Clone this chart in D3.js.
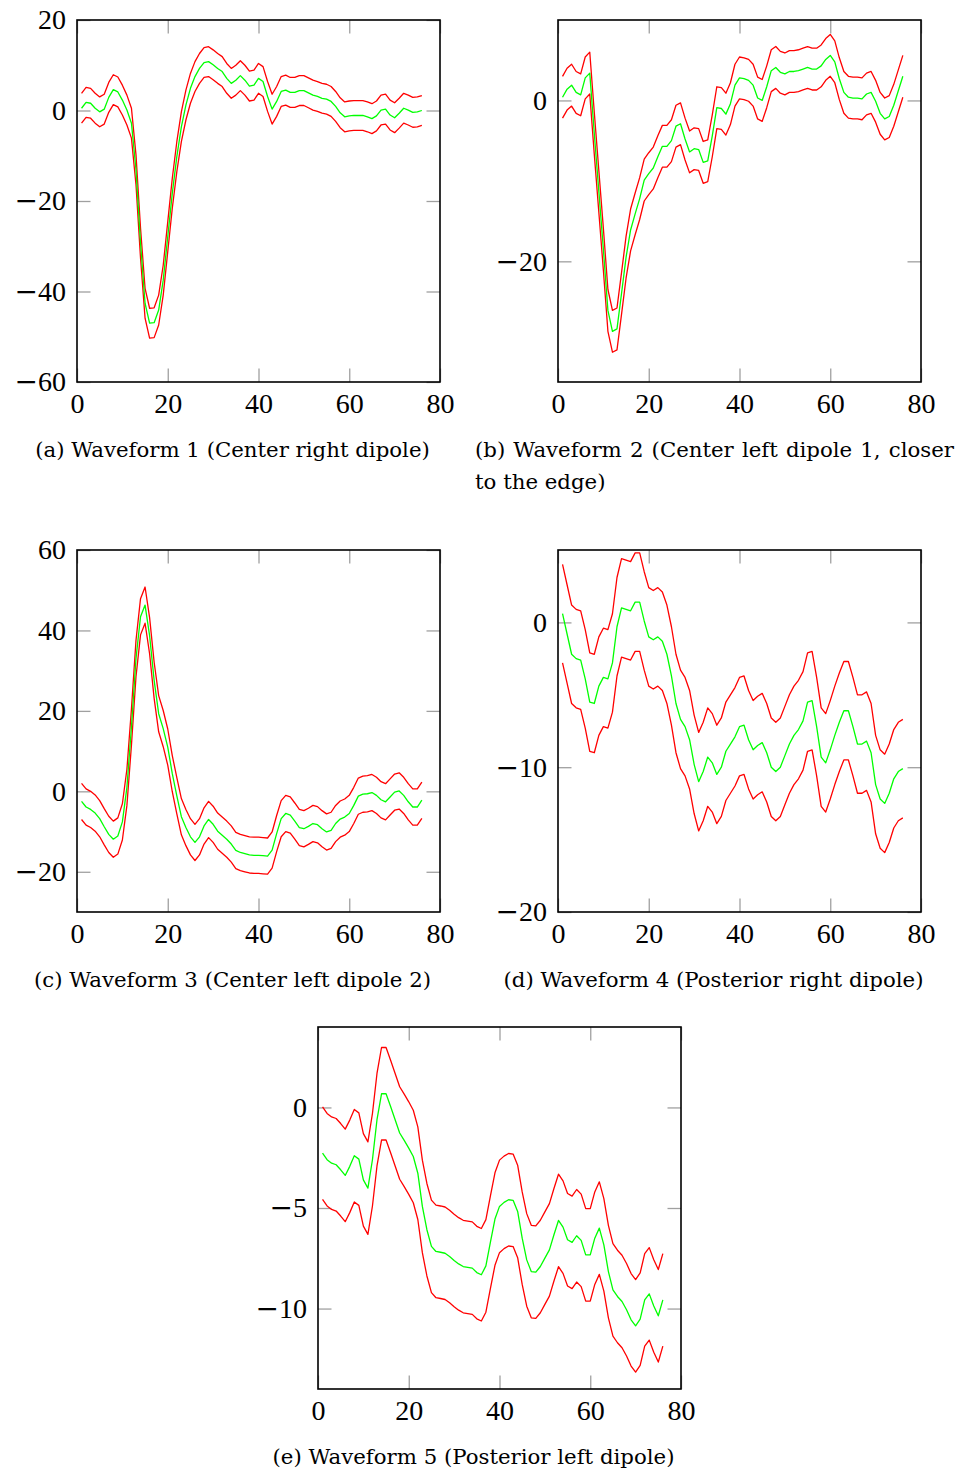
<!DOCTYPE html>
<html><head><meta charset="utf-8">
<script src="https://cdn.jsdelivr.net/npm/d3@7"></script>
<style>html,body{margin:0;padding:0;background:#fff;} svg{display:block;}</style>
</head><body><svg id="chart" width="961" height="1474"></svg>
<script>
// ---------- DATA ----------
const sampleIndex = d3.range(1, 77); // sample number 1..76
const xTicks = [0, 20, 40, 60, 80];

const wf1Mean  = [0.5,1.8,1.6,0.5,-0.3,0.3,2.9,4.6,4.1,2.3,0.1,-2.8,-13.1,-29.3,-42.6,-47.0,-46.9,-44.1,-37.5,-27.9,-18.3,-10.2,-3.6,1.2,4.9,7.5,9.3,10.6,10.8,10.1,9.3,8.6,7.1,6.0,6.7,7.7,6.7,5.4,5.6,7.1,6.4,3.1,0.3,2.0,4.2,4.5,4.0,4.0,4.4,4.4,3.9,3.4,3.1,2.7,2.5,2.0,0.9,-0.5,-1.4,-1.2,-1.1,-1.1,-1.1,-1.4,-1.8,-1.2,0.1,0.3,-1.0,-1.6,-0.6,0.5,0.1,-0.4,-0.3,0.0];
const wf1Upper = [3.8,5.1,4.9,3.8,3.0,3.6,6.2,7.9,7.4,5.6,3.4,0.5,-9.8,-26.0,-39.3,-43.7,-43.6,-40.8,-34.2,-24.6,-15.0,-6.9,-0.3,4.5,8.2,10.8,12.6,13.9,14.1,13.4,12.6,11.9,10.4,9.3,10.0,11.0,10.0,8.7,8.9,10.4,9.7,6.4,3.6,5.3,7.5,7.8,7.3,7.3,7.7,7.7,7.2,6.7,6.4,6.0,5.8,5.3,4.2,2.8,1.9,2.1,2.2,2.2,2.2,1.9,1.5,2.1,3.4,3.6,2.3,1.7,2.7,3.8,3.4,2.9,3.0,3.3];
const wf1Lower = [-2.8,-1.5,-1.7,-2.8,-3.6,-3.0,-0.4,1.3,0.8,-1.0,-3.2,-6.1,-16.4,-32.6,-45.9,-50.3,-50.2,-47.4,-40.8,-31.2,-21.6,-13.5,-6.9,-2.1,1.6,4.2,6.0,7.3,7.5,6.8,6.0,5.3,3.8,2.7,3.4,4.4,3.4,2.1,2.3,3.8,3.1,-0.2,-3.0,-1.3,0.9,1.2,0.7,0.7,1.1,1.1,0.6,0.1,-0.2,-0.6,-0.8,-1.3,-2.4,-3.8,-4.7,-4.5,-4.4,-4.4,-4.4,-4.7,-5.1,-4.5,-3.2,-3.0,-4.3,-4.9,-3.9,-2.8,-3.2,-3.7,-3.6,-3.3];
const wf1YTicks = [-60, -40, -20, 0, 20];

const wf2Mean  = [0.4,1.4,1.9,1.0,0.7,2.8,3.4,-4.1,-11.3,-18.5,-26.1,-28.7,-28.4,-24.0,-19.5,-16.1,-14.1,-12.2,-9.9,-9.1,-8.4,-7.0,-5.7,-5.7,-5.0,-3.2,-2.9,-4.8,-6.4,-6.0,-6.1,-7.7,-7.5,-4.4,-0.9,-1.0,-1.7,-0.4,1.9,2.8,2.7,2.5,1.9,0.3,0.0,1.7,3.7,4.1,3.5,3.3,3.6,3.6,3.7,3.9,4.1,3.9,3.9,4.3,5.1,5.6,4.8,2.7,1.0,0.4,0.3,0.3,0.2,0.8,1.0,-0.1,-1.6,-2.3,-2.0,-0.6,1.2,3.0];
const wf2Upper = [3.0,4.0,4.5,3.6,3.3,5.4,6.0,-1.5,-8.7,-15.9,-23.5,-26.1,-25.8,-21.4,-16.9,-13.5,-11.5,-9.6,-7.3,-6.5,-5.8,-4.4,-3.1,-3.1,-2.4,-0.6,-0.3,-2.2,-3.8,-3.4,-3.5,-5.1,-4.9,-1.8,1.7,1.6,0.9,2.2,4.5,5.4,5.3,5.1,4.5,2.9,2.6,4.3,6.3,6.7,6.1,5.9,6.2,6.2,6.3,6.5,6.7,6.5,6.5,6.9,7.7,8.2,7.4,5.3,3.6,3.0,2.9,2.9,2.8,3.4,3.6,2.5,1.0,0.3,0.6,2.0,3.8,5.6];
const wf2Lower = [-2.2,-1.2,-0.7,-1.6,-1.9,0.2,0.8,-6.7,-13.9,-21.1,-28.7,-31.3,-31.0,-26.6,-22.1,-18.7,-16.7,-14.8,-12.5,-11.7,-11.0,-9.6,-8.3,-8.3,-7.6,-5.8,-5.5,-7.4,-9.0,-8.6,-8.7,-10.3,-10.1,-7.0,-3.5,-3.6,-4.3,-3.0,-0.7,0.2,0.1,-0.1,-0.7,-2.3,-2.6,-0.9,1.1,1.5,0.9,0.7,1.0,1.0,1.1,1.3,1.5,1.3,1.3,1.7,2.5,3.0,2.2,0.1,-1.6,-2.2,-2.3,-2.3,-2.4,-1.8,-1.6,-2.7,-4.2,-4.9,-4.6,-3.2,-1.4,0.4];
const wf2YTicks = [-20, 0];

const wf3Mean  = [-2.5,-3.9,-4.5,-5.4,-6.8,-8.8,-10.7,-11.9,-11.1,-7.6,1.0,16.0,33.0,43.4,46.3,38.7,27.6,19.3,15.6,11.0,4.4,-1.1,-6.3,-9.0,-11.3,-12.7,-11.3,-8.6,-7.0,-8.2,-9.9,-10.9,-11.9,-13.1,-14.7,-15.2,-15.5,-15.8,-15.9,-15.9,-16.0,-16.1,-14.6,-10.5,-6.8,-5.5,-5.9,-7.4,-9.0,-9.3,-8.7,-8.0,-8.3,-9.3,-10.1,-9.7,-8.0,-6.9,-6.4,-5.5,-3.5,-1.2,-0.7,-0.6,-0.3,-1.0,-2.1,-2.6,-1.4,-0.2,0.1,-1.0,-2.6,-3.9,-3.9,-2.2];
const wf3Upper = [2.0,0.6,0.0,-0.9,-2.3,-4.3,-6.2,-7.4,-6.6,-3.1,5.5,20.5,37.5,47.9,50.8,43.2,32.1,23.8,20.1,15.5,8.9,3.4,-1.8,-4.5,-6.8,-8.2,-6.8,-4.1,-2.5,-3.7,-5.4,-6.4,-7.4,-8.6,-10.2,-10.7,-11.0,-11.3,-11.4,-11.4,-11.5,-11.6,-10.1,-6.0,-2.3,-1.0,-1.4,-2.9,-4.5,-4.8,-4.2,-3.5,-3.8,-4.8,-5.6,-5.2,-3.5,-2.4,-1.9,-1.0,1.0,3.3,3.8,3.9,4.2,3.5,2.4,1.9,3.1,4.3,4.6,3.5,1.9,0.6,0.6,2.3];
const wf3Lower = [-7.0,-8.4,-9.0,-9.9,-11.3,-13.3,-15.2,-16.4,-15.6,-12.1,-3.5,11.5,28.5,38.9,41.8,34.2,23.1,14.8,11.1,6.5,-0.1,-5.6,-10.8,-13.5,-15.8,-17.2,-15.8,-13.1,-11.5,-12.7,-14.4,-15.4,-16.4,-17.6,-19.2,-19.7,-20.0,-20.3,-20.4,-20.4,-20.5,-20.6,-19.1,-15.0,-11.3,-10.0,-10.4,-11.9,-13.5,-13.8,-13.2,-12.5,-12.8,-13.8,-14.6,-14.2,-12.5,-11.4,-10.9,-10.0,-8.0,-5.7,-5.2,-5.1,-4.8,-5.5,-6.6,-7.1,-5.9,-4.7,-4.4,-5.5,-7.1,-8.4,-8.4,-6.7];
const wf3YTicks = [-20, 0, 20, 40, 60];

const wf4Mean  = [0.6,-0.8,-2.2,-2.5,-2.6,-3.9,-5.5,-5.6,-4.4,-3.8,-3.9,-2.8,-0.3,1.0,0.9,0.8,1.4,1.4,0.1,-1.0,-1.2,-1.0,-1.3,-2.2,-3.7,-5.6,-6.7,-7.2,-8.1,-9.8,-11.0,-10.3,-9.3,-9.7,-10.5,-10.0,-8.9,-8.4,-7.9,-7.2,-7.1,-8.1,-8.8,-8.5,-8.3,-9.0,-10.0,-10.3,-10.0,-9.2,-8.4,-7.8,-7.4,-6.8,-5.5,-5.4,-7.2,-9.3,-9.7,-8.8,-7.8,-6.9,-6.1,-6.1,-7.2,-8.4,-8.4,-8.2,-9.0,-11.2,-12.2,-12.5,-11.8,-10.8,-10.3,-10.1];
const wf4Upper = [4.0,2.6,1.2,0.9,0.8,-0.5,-2.1,-2.2,-1.0,-0.4,-0.5,0.6,3.1,4.4,4.3,4.2,4.8,4.8,3.5,2.4,2.2,2.4,2.1,1.2,-0.3,-2.2,-3.3,-3.8,-4.7,-6.4,-7.6,-6.9,-5.9,-6.3,-7.1,-6.6,-5.5,-5.0,-4.5,-3.8,-3.7,-4.7,-5.4,-5.1,-4.9,-5.6,-6.6,-6.9,-6.6,-5.8,-5.0,-4.4,-4.0,-3.4,-2.1,-2.0,-3.8,-5.9,-6.3,-5.4,-4.4,-3.5,-2.7,-2.7,-3.8,-5.0,-5.0,-4.8,-5.6,-7.8,-8.8,-9.1,-8.4,-7.4,-6.9,-6.7];
const wf4Lower = [-2.8,-4.2,-5.6,-5.9,-6.0,-7.3,-8.9,-9.0,-7.8,-7.2,-7.3,-6.2,-3.7,-2.4,-2.5,-2.6,-2.0,-2.0,-3.3,-4.4,-4.6,-4.4,-4.7,-5.6,-7.1,-9.0,-10.1,-10.6,-11.5,-13.2,-14.4,-13.7,-12.7,-13.1,-13.9,-13.4,-12.3,-11.8,-11.3,-10.6,-10.5,-11.5,-12.2,-11.9,-11.7,-12.4,-13.4,-13.7,-13.4,-12.6,-11.8,-11.2,-10.8,-10.2,-8.9,-8.8,-10.6,-12.7,-13.1,-12.2,-11.2,-10.3,-9.5,-9.5,-10.6,-11.8,-11.8,-11.6,-12.4,-14.6,-15.6,-15.9,-15.2,-14.2,-13.7,-13.5];
const wf4YTicks = [-20, -10, 0];

const wf5Mean  = [-2.27,-2.6,-2.77,-2.85,-3.1,-3.38,-2.93,-2.4,-2.57,-3.6,-4.01,-2.6,-0.61,0.68,0.68,0.05,-0.61,-1.27,-1.64,-2.02,-2.44,-3.27,-4.92,-6.08,-6.91,-7.16,-7.2,-7.25,-7.41,-7.61,-7.78,-7.91,-7.95,-7.99,-8.21,-8.32,-7.88,-6.7,-5.55,-4.92,-4.72,-4.59,-4.62,-5.17,-6.5,-7.58,-8.16,-8.19,-7.91,-7.49,-7.08,-6.33,-5.62,-5.95,-6.58,-6.71,-6.38,-6.61,-7.33,-7.33,-6.5,-6.0,-6.83,-8.16,-9.07,-9.4,-9.65,-10.06,-10.56,-10.86,-10.53,-9.57,-9.27,-9.87,-10.36,-9.57];
const wf5Upper = [0.03,-0.3,-0.47,-0.55,-0.8,-1.08,-0.63,-0.1,-0.27,-1.3,-1.71,-0.3,1.69,2.98,2.98,2.35,1.69,1.03,0.66,0.28,-0.14,-0.97,-2.62,-3.78,-4.61,-4.86,-4.9,-4.95,-5.11,-5.31,-5.48,-5.61,-5.65,-5.69,-5.91,-6.02,-5.58,-4.4,-3.25,-2.62,-2.42,-2.29,-2.32,-2.87,-4.2,-5.28,-5.86,-5.89,-5.61,-5.19,-4.78,-4.03,-3.32,-3.65,-4.28,-4.41,-4.08,-4.31,-5.03,-5.03,-4.2,-3.7,-4.53,-5.86,-6.77,-7.1,-7.35,-7.76,-8.26,-8.56,-8.23,-7.27,-6.97,-7.57,-8.06,-7.27];
const wf5Lower = [-4.57,-4.9,-5.07,-5.15,-5.4,-5.68,-5.23,-4.7,-4.87,-5.9,-6.31,-4.9,-2.91,-1.62,-1.62,-2.25,-2.91,-3.57,-3.94,-4.32,-4.74,-5.57,-7.22,-8.38,-9.21,-9.46,-9.5,-9.55,-9.71,-9.91,-10.08,-10.21,-10.25,-10.29,-10.51,-10.62,-10.18,-9.0,-7.85,-7.22,-7.02,-6.89,-6.92,-7.47,-8.8,-9.88,-10.46,-10.49,-10.21,-9.79,-9.38,-8.63,-7.92,-8.25,-8.88,-9.01,-8.68,-8.91,-9.63,-9.63,-8.8,-8.3,-9.13,-10.46,-11.37,-11.7,-11.95,-12.36,-12.86,-13.16,-12.83,-11.87,-11.57,-12.17,-12.66,-11.87];
const wf5YTicks = [-10, -5, 0];

const captionTexts = [
  ["(a) Waveform 1 (Center right dipole)"],
  ["(b) Waveform 2 (Center left dipole 1, closer", "to the edge)"],
  ["(c) Waveform 3 (Center left dipole 2)"],
  ["(d) Waveform 4 (Posterior right dipole)"],
  ["(e) Waveform 5 (Posterior left dipole)"]
];

// ---------- LAYOUT ----------
const W = 363, H = 362;
const panels = [
  {mean: wf1Mean, upper: wf1Upper, lower: wf1Lower, yDomain: [-60, 20], yTicks: wf1YTicks, left: 77,  top: 20},
  {mean: wf2Mean, upper: wf2Upper, lower: wf2Lower, yDomain: [-35, 10], yTicks: wf2YTicks, left: 558, top: 20},
  {mean: wf3Mean, upper: wf3Upper, lower: wf3Lower, yDomain: [-30, 60], yTicks: wf3YTicks, left: 77,  top: 550},
  {mean: wf4Mean, upper: wf4Upper, lower: wf4Lower, yDomain: [-20, 5],  yTicks: wf4YTicks, left: 558, top: 550},
  {mean: wf5Mean, upper: wf5Upper, lower: wf5Lower, yDomain: [-14, 4],  yTicks: wf5YTicks, left: 318, top: 1027}
];

const svg = d3.select("#chart");
const tickFont = "'Liberation Serif', 'DejaVu Serif', serif";
const capFont = "'DejaVu Serif', serif";
const TICK = 13.5;

panels.forEach((p, i) => {
  const x = d3.scaleLinear().domain([0, 80]).range([p.left, p.left + W]);
  const y = d3.scaleLinear().domain(p.yDomain).range([p.top + H, p.top]);
  const g = svg.append("g");

  const styleAxis = (sel, labels) => {
    sel.select(".domain").remove();
    sel.selectAll(".tick line").attr("stroke", "#a0a0a0").attr("stroke-width", 1.3);
    sel.selectAll(".tick text").attr("fill", "#000").attr("font-family", tickFont).attr("font-size", 28);
    if (!labels) { sel.selectAll(".tick text").remove(); return; }
    sel.selectAll(".tick text").each(function(d) {
      if (d < 0) {
        const t = d3.select(this);
        t.text("");
        t.append("tspan").attr("font-family", "'DejaVu Serif', serif").attr("font-weight", 300).text("\u2212");
        t.append("tspan").text(Math.abs(d));
      }
    });
  };

  g.append("g").attr("transform", `translate(0,${p.top + H})`)
    .call(d3.axisBottom(x).tickValues(xTicks).tickSize(-TICK).tickPadding(11).tickFormat(d3.format("d")))
    .call(s => styleAxis(s, true));
  g.append("g").attr("transform", `translate(0,${p.top})`)
    .call(d3.axisTop(x).tickValues(xTicks).tickSize(-TICK))
    .call(s => styleAxis(s, false));
  g.append("g").attr("transform", `translate(${p.left},0)`)
    .call(d3.axisLeft(y).tickValues(p.yTicks).tickSize(-TICK).tickPadding(11).tickFormat(d3.format("d")))
    .call(s => styleAxis(s, true));
  g.append("g").attr("transform", `translate(${p.left + W},0)`)
    .call(d3.axisRight(y).tickValues(p.yTicks).tickSize(-TICK))
    .call(s => styleAxis(s, false));

  const line = d3.line().x((d, k) => x(sampleIndex[k])).y(d => y(d));
  [[p.upper, "#ff0000"], [p.lower, "#ff0000"], [p.mean, "#00ff00"]].forEach(([arr, col]) => {
    g.append("path").datum(arr).attr("d", line)
      .attr("fill", "none").attr("stroke", col).attr("stroke-width", 1.3).attr("stroke-linejoin", "round");
  });

  g.append("rect").attr("x", p.left).attr("y", p.top).attr("width", W).attr("height", H)
    .attr("fill", "none").attr("stroke", "#000").attr("stroke-width", 1.6);
});

// ---------- CAPTIONS ----------
const probe = svg.append("text").attr("font-family", capFont).attr("font-size", 20).text(captionTexts[0][0]);
const capSize = 20 * 395 / probe.node().getComputedTextLength();
probe.remove();

function cap(txt, xPos, yPos, anchor) {
  return svg.append("text").attr("x", xPos).attr("y", yPos).attr("text-anchor", anchor)
    .attr("font-family", capFont).attr("font-size", capSize).attr("fill", "#000").text(txt);
}
const off = 26;
cap(captionTexts[0][0], panels[0].left + W / 2 - off, 457, "middle");
const b1 = cap(captionTexts[1][0], 475, 457, "start");
const nat = b1.node().getComputedTextLength();
const spaces = captionTexts[1][0].split(" ").length - 1;
b1.attr("word-spacing", (479 - nat) / spaces);
cap(captionTexts[1][1], 475, 489, "start");
cap(captionTexts[2][0], panels[2].left + W / 2 - off, 987, "middle");
cap(captionTexts[3][0], panels[3].left + W / 2 - off, 987, "middle");
cap(captionTexts[4][0], panels[4].left + W / 2 - off, 1464, "middle");
</script>
</body></html>
